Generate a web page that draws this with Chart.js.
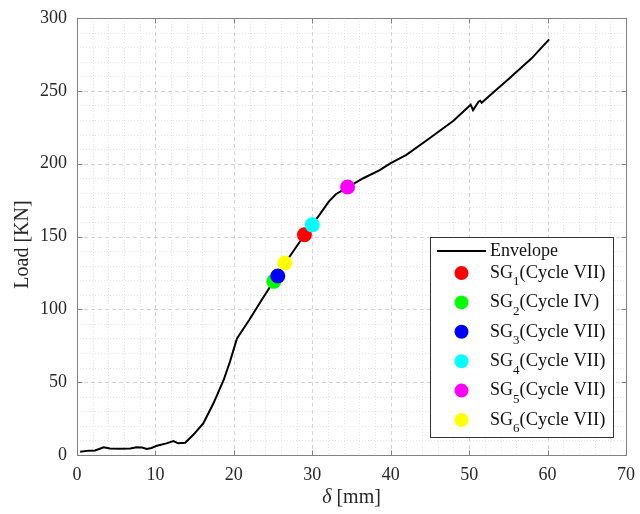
<!DOCTYPE html>
<html>
<head>
<meta charset="utf-8">
<script src="https://cdn.jsdelivr.net/npm/chart.js@4.4.0/dist/chart.umd.min.js"></script>
<style>
  html, body { margin: 0; padding: 0; background: #fff; }
</style>
</head>
<body>
<canvas id="chart" width="640" height="514"></canvas>
<script>
// Envelope curve (delta in mm, load in kN)
const envX = [0.4, 1.5, 2.3, 3.0, 3.4, 4.2, 5.5, 6.8, 7.6, 8.3, 8.9, 9.5, 10.2, 11.4, 12.3, 12.9, 13.8, 14.8, 16.1, 17.4, 18.7, 19.5, 20.4, 22.0, 23.5, 25.1, 26.5, 29.0, 30.0, 31.0, 32.1, 33.0, 34.6, 36.5, 38.6, 40.0, 42.0, 45.0, 48.0, 50.2, 50.5, 51.2, 51.4, 51.6, 53.0, 55.0, 58.0, 60.2];
const envY = [2.3, 3.0, 3.1, 4.5, 5.3, 4.4, 4.3, 4.4, 5.3, 5.1, 4.1, 4.8, 6.4, 8.0, 9.6, 8.0, 8.4, 13.7, 21.7, 35.5, 51.5, 64.0, 80.0, 93.0, 106.0, 119.4, 131.5, 151.0, 158.0, 165.5, 173.9, 179.0, 184.0, 190.0, 195.6, 200.4, 206.0, 217.6, 229.5, 240.5, 236.8, 242.5, 243.2, 241.8, 248.5, 258.0, 272.5, 285.3];

// Strain gauge points
const sgSub = ['1', '2', '3', '4', '5', '6'];
const sgCycle = ['Cycle VII', 'Cycle IV', 'Cycle VII', 'Cycle VII', 'Cycle VII', 'Cycle VII'];
const sgX = [29.0, 25.1, 25.6, 30.0, 34.5, 26.5];
const sgY = [151.2, 119.2, 122.9, 158.0, 184.0, 131.8];
const sgColors = ['#ff0000', '#00ff00', '#0000ff', '#00ffff', '#ff00ff', '#ffff00'];

// Axis ticks
const xTicks = [0, 10, 20, 30, 40, 50, 60, 70];
const yTicks = [0, 50, 100, 150, 200, 250, 300];

const SERIF = '"Liberation Serif", "Times New Roman", serif';
const TXT = '#262626';

const datasets = [{
  type: 'line',
  label: 'Envelope',
  data: envX.map((x, i) => ({ x, y: envY[i] })),
  borderColor: '#000',
  borderWidth: 2,
  pointRadius: 0,
  tension: 0,
  fill: false,
  order: 100
}];
sgX.forEach((x, i) => {
  datasets.push({
    type: 'scatter',
    label: 'SG' + sgSub[i] + '(' + sgCycle[i] + ')',
    data: [{ x, y: sgY[i] }],
    backgroundColor: sgColors[i],
    borderWidth: 0,
    pointRadius: 7.5,
    order: 10 - i
  });
});

function noPad(s) {
  s.paddingTop = 0; s.paddingBottom = 0; s.paddingLeft = 0; s.paddingRight = 0;
}

// ─── Grid, box and legend drawn the MATLAB way ─────────────

const matlabLook = {
  id: 'matlabLook',
  beforeDraw(chart) {
    const ctx = chart.ctx;
    ctx.save();
    ctx.fillStyle = '#fff';
    ctx.fillRect(0, 0, chart.width, chart.height);
    ctx.restore();
  },
  beforeDatasetsDraw(chart) {
    const { ctx, chartArea: a, scales: { x, y } } = chart;
    ctx.save();
    ctx.lineWidth = 1;
    // minor grid
    ctx.strokeStyle = '#e6e6e6';
    ctx.setLineDash([1, 2]);
    for (let v = 2; v < 70; v += 2) {
      if (v % 10 === 0) continue;
      const px = Math.round(x.getPixelForValue(v)) + 0.5;
      ctx.beginPath(); ctx.moveTo(px, a.top); ctx.lineTo(px, a.bottom); ctx.stroke();
    }
    for (let v = 10; v < 300; v += 10) {
      if (v % 50 === 0) continue;
      const py = Math.round(y.getPixelForValue(v)) + 0.5;
      ctx.beginPath(); ctx.moveTo(a.left, py); ctx.lineTo(a.right, py); ctx.stroke();
    }
    // major grid
    ctx.strokeStyle = '#d4d4d4';
    ctx.setLineDash([4, 3]);
    xTicks.slice(1, -1).forEach(v => {
      const px = Math.round(x.getPixelForValue(v)) + 0.5;
      ctx.beginPath(); ctx.moveTo(px, a.top); ctx.lineTo(px, a.bottom); ctx.stroke();
    });
    yTicks.slice(1, -1).forEach(v => {
      const py = Math.round(y.getPixelForValue(v)) + 0.5;
      ctx.beginPath(); ctx.moveTo(a.left, py); ctx.lineTo(a.right, py); ctx.stroke();
    });
    ctx.restore();
  },
  afterDatasetsDraw(chart) {
    const { ctx, chartArea: a, scales: { x, y } } = chart;
    ctx.save();
    ctx.strokeStyle = '#808080';
    ctx.lineWidth = 1;
    ctx.setLineDash([]);
    const L = Math.round(a.left) + 0.5, R = Math.round(a.right) + 0.5;
    const T = Math.round(a.top) + 0.5, B = Math.round(a.bottom) + 0.5;
    ctx.strokeRect(L, T, R - L, B - T);
    // inward ticks
    ctx.beginPath();
    xTicks.forEach(v => {
      const px = Math.round(x.getPixelForValue(v)) + 0.5;
      ctx.moveTo(px, B); ctx.lineTo(px, B - 5);
      ctx.moveTo(px, T); ctx.lineTo(px, T + 5);
    });
    yTicks.forEach(v => {
      const py = Math.round(y.getPixelForValue(v)) + 0.5;
      ctx.moveTo(L, py); ctx.lineTo(L + 5, py);
      ctx.moveTo(R, py); ctx.lineTo(R - 5, py);
    });
    ctx.stroke();
    ctx.restore();
  },
  afterDraw(chart) {
    const { ctx, chartArea: a } = chart;
    ctx.save();
    // axis titles
    ctx.fillStyle = TXT;
    ctx.textBaseline = 'middle';
    const cx = (a.left + a.right) / 2;
    ctx.font = 'italic 20px ' + SERIF;
    const dW = ctx.measureText('δ').width;
    ctx.font = '20px ' + SERIF;
    const rW = ctx.measureText(' [mm]').width;
    let sx = cx - (dW + rW) / 2;
    ctx.textAlign = 'left';
    ctx.font = 'italic 20px ' + SERIF;
    ctx.fillText('δ', sx, 498);
    ctx.font = '20px ' + SERIF;
    ctx.fillText(' [mm]', sx + dW, 498);

    ctx.save();
    ctx.translate(23, (a.top + a.bottom) / 2 + 8);
    ctx.rotate(-Math.PI / 2);
    ctx.textAlign = 'center';
    ctx.fillText('Load [KN]', 0, 0);
    ctx.restore();

    // legend box
    const bx = a.right - 196, by = a.bottom - 218, bw = 183, bh = 200;
    ctx.fillStyle = '#fff';
    ctx.fillRect(bx, by, bw, bh);
    ctx.strokeStyle = '#333';
    ctx.lineWidth = 1;
    ctx.strokeRect(bx + 0.5, by + 0.5, bw, bh);

    const tx = bx + 60;
    let ry = by + 14;
    ctx.strokeStyle = '#000';
    ctx.lineWidth = 2;
    ctx.beginPath(); ctx.moveTo(bx + 7, ry); ctx.lineTo(bx + 56, ry); ctx.stroke();
    ctx.fillStyle = '#111';
    ctx.textAlign = 'left';
    ctx.textBaseline = 'middle';
    ctx.font = '18px ' + SERIF;
    ctx.fillText('Envelope', tx, ry);

    sgSub.forEach((s, i) => {
      ry = by + 36 + i * 29.4;
      ctx.fillStyle = sgColors[i];
      ctx.beginPath(); ctx.arc(bx + 31.5, ry, 7, 0, Math.PI * 2); ctx.fill();
      ctx.fillStyle = '#111';
      ctx.font = '18px ' + SERIF;
      ctx.fillText('SG', tx, ry);
      let w = ctx.measureText('SG').width;
      ctx.font = '13px ' + SERIF;
      ctx.fillText(s, tx + w, ry + 9);
      w += ctx.measureText(s).width;
      ctx.font = '18.5px ' + SERIF;
      ctx.fillText('(' + sgCycle[i] + ')', tx + w, ry);
    });
    ctx.restore();
  }
};

new Chart(document.getElementById('chart'), {
  data: { datasets },
  options: {
    responsive: false,
    animation: false,
    layout: { padding: { top: 18, right: 14, left: 0, bottom: 0 } },
    plugins: { legend: { display: false }, tooltip: { enabled: false } },
    scales: {
      x: {
        type: 'linear',
        min: 0, max: 70,
        afterBuildTicks: s => { s.ticks = xTicks.map(v => ({ value: v })); },
        afterFit: s => { s.height = 59; noPad(s); },
        ticks: { color: TXT, font: { family: SERIF, size: 18 }, padding: 9, maxRotation: 0 },
        grid: { display: false, drawTicks: false },
        border: { display: false }
      },
      y: {
        type: 'linear',
        min: 0, max: 300,
        afterBuildTicks: s => { s.ticks = yTicks.map(v => ({ value: v })); },
        afterFit: s => { s.width = 77; noPad(s); },
        ticks: { color: TXT, font: { family: SERIF, size: 18 }, padding: 10 },
        grid: { display: false, drawTicks: false },
        border: { display: false }
      }
    }
  },
  plugins: [matlabLook]
});
</script>
</body>
</html>
